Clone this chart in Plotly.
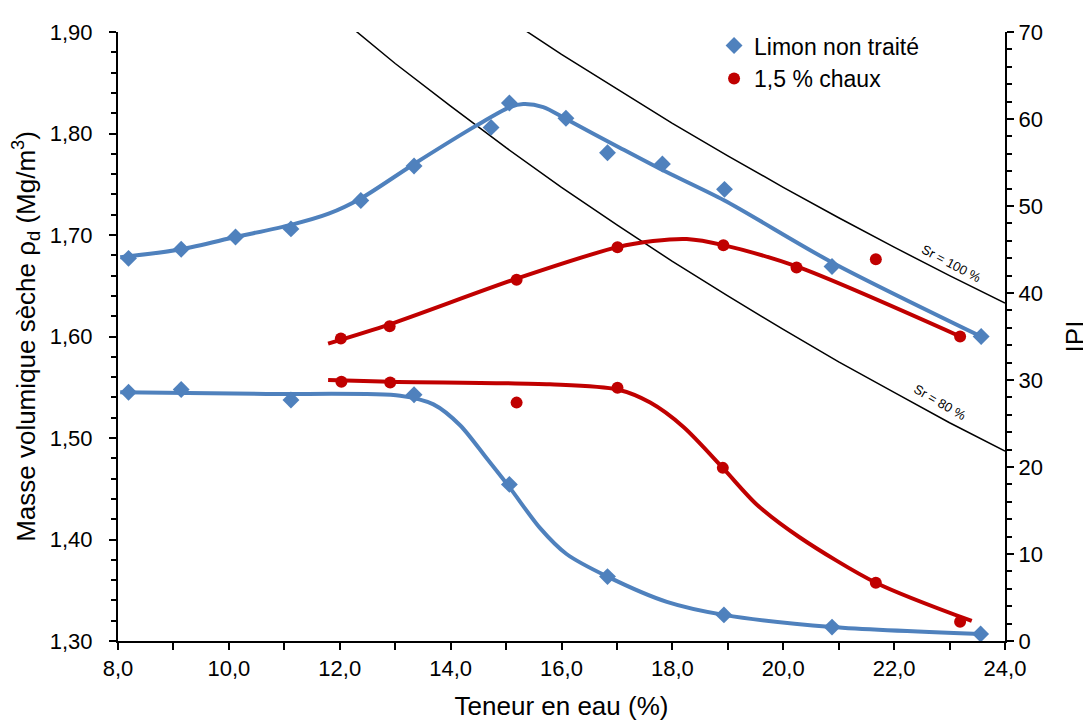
import plotly.graph_objects as go

# ---- measured points ----
w_limon_rho = [8.19, 9.14, 10.12, 11.12, 12.38, 13.34, 14.73, 15.06, 16.08, 16.83, 17.82, 18.94, 20.88, 23.57]
rho_limon = [1.677, 1.686, 1.698, 1.706, 1.734, 1.768, 1.806, 1.830, 1.815, 1.781, 1.770, 1.745, 1.669, 1.600]

w_limon_ipi = [8.19, 9.14, 11.12, 13.34, 15.06, 16.83, 18.93, 20.88, 23.56]
ipi_limon = [28.6, 28.9, 27.7, 28.3, 18.0, 7.4, 3.0, 1.6, 0.8]

w_chaux_rho = [12.02, 12.90, 15.19, 17.01, 18.92, 20.24, 21.67, 23.19]
rho_chaux = [1.598, 1.610, 1.656, 1.688, 1.690, 1.668, 1.676, 1.600]

w_chaux_ipi = [12.03, 12.91, 15.19, 17.01, 18.91, 21.67, 23.19]
ipi_chaux = [29.8, 29.7, 27.4, 29.1, 19.9, 6.7, 2.2]

# ---- fitted curves ----
w_fit_limon_rho = [8.04, 9.14, 10.12, 11.12, 11.80, 12.38, 13.34, 14.47, 15.07, 15.31, 15.67, 16.09, 17.05, 17.82, 18.94, 20.88, 23.57]
fit_limon_rho = [1.678, 1.686, 1.698, 1.710, 1.721, 1.736, 1.770, 1.808, 1.826, 1.829, 1.826, 1.814, 1.786, 1.764, 1.734, 1.673, 1.600]

w_fit_limon_ipi = [8.04, 10.68, 13.09, 13.69, 14.17, 14.65, 15.07, 15.61, 16.09, 16.83, 17.90, 18.93, 20.88, 23.56]
fit_limon_ipi = [28.6, 28.4, 28.2, 27.2, 24.8, 21.0, 17.6, 13.0, 10.0, 7.4, 4.5, 3.0, 1.6, 0.8]

w_fit_chaux_rho = [11.79, 12.90, 15.19, 17.01, 17.65, 18.26, 18.92, 20.24, 23.19]
fit_chaux_rho = [1.593, 1.612, 1.657, 1.688, 1.694, 1.696, 1.690, 1.669, 1.600]

w_fit_chaux_ipi = [11.79, 12.91, 15.79, 17.01, 17.60, 18.20, 18.91, 19.52, 20.30, 21.67, 23.40]
fit_chaux_ipi = [30.0, 29.8, 29.5, 28.9, 27.4, 24.6, 19.9, 15.7, 11.9, 6.7, 2.3]

# ---- saturation curves ----
w_sr100 = [15.0, 16.0, 17.0, 18.0, 19.0, 20.0, 21.0, 22.0, 23.0, 24.0]
rho_sr100 = [1.914, 1.878, 1.844, 1.810, 1.778, 1.747, 1.717, 1.688, 1.660, 1.633]
w_sr80 = [12.0, 13.0, 14.0, 15.0, 16.0, 17.0, 18.0, 19.0, 20.0, 21.0, 22.0, 23.0, 24.0]
rho_sr80 = [1.914, 1.869, 1.827, 1.786, 1.747, 1.710, 1.674, 1.640, 1.607, 1.575, 1.545, 1.515, 1.487]

BLUE = "#4F81BD"
RED = "#C00000"
FONT = "Liberation Sans, Arial, sans-serif"

fig = go.Figure()

fig.add_trace(go.Scatter(x=w_sr100, y=rho_sr100, mode="lines", line=dict(color="black", width=1.5),
                         showlegend=False, hoverinfo="skip"))
fig.add_trace(go.Scatter(x=w_sr80, y=rho_sr80, mode="lines", line=dict(color="black", width=1.5),
                         showlegend=False, hoverinfo="skip"))

# fitted curves
fig.add_trace(go.Scatter(x=w_fit_limon_rho, y=fit_limon_rho, mode="lines",
                         line=dict(color=BLUE, width=4, shape="spline", smoothing=0.8), showlegend=False))
fig.add_trace(go.Scatter(x=w_fit_chaux_rho, y=fit_chaux_rho, mode="lines",
                         line=dict(color=RED, width=4, shape="spline", smoothing=0.8), showlegend=False))
fig.add_trace(go.Scatter(x=w_fit_limon_ipi, y=fit_limon_ipi, mode="lines", yaxis="y2",
                         line=dict(color=BLUE, width=4, shape="spline", smoothing=0.8), showlegend=False))
fig.add_trace(go.Scatter(x=w_fit_chaux_ipi, y=fit_chaux_ipi, mode="lines", yaxis="y2",
                         line=dict(color=RED, width=4, shape="spline", smoothing=0.8), showlegend=False))

# markers
fig.add_trace(go.Scatter(x=w_limon_rho, y=rho_limon, mode="markers", name="Limon non traité",
                         marker=dict(symbol="diamond", color=BLUE, size=13)))
fig.add_trace(go.Scatter(x=w_chaux_rho, y=rho_chaux, mode="markers", name="1,5 % chaux",
                         marker=dict(symbol="circle", color=RED, size=12)))
fig.add_trace(go.Scatter(x=w_limon_ipi, y=ipi_limon, mode="markers", yaxis="y2", showlegend=False,
                         marker=dict(symbol="diamond", color=BLUE, size=13)))
fig.add_trace(go.Scatter(x=w_chaux_ipi, y=ipi_chaux, mode="markers", yaxis="y2", showlegend=False,
                         marker=dict(symbol="circle", color=RED, size=12)))

fig.add_annotation(x=23.03, y=1.672, text="Sr = 100 %", showarrow=False, textangle=28,
                   font=dict(family=FONT, size=13, color="black"))
fig.add_annotation(x=22.83, y=1.535, text="Sr = 80 %", showarrow=False, textangle=30,
                   font=dict(family=FONT, size=13, color="black"))

axis_common = dict(showgrid=False, zeroline=False, showline=True, linecolor="black", linewidth=2,
                   ticks="outside", tickcolor="black", tickwidth=2, ticklen=7,
                   tickfont=dict(family=FONT, size=22, color="black"))

fig.update_layout(
    width=1091, height=724,
    margin=dict(l=110, r=94, t=18, b=91),
    paper_bgcolor="white", plot_bgcolor="white",
    font=dict(family=FONT, color="black"),
    separators=", ",
    xaxis=dict(range=[8, 24], dtick=2, tick0=8, tickformat=".1f",
               minor=dict(dtick=1, ticks="outside", ticklen=7, tickwidth=2, tickcolor="black"),
               title=dict(text="Teneur en eau (%)", font=dict(family=FONT, size=26), standoff=16),
               **axis_common),
    yaxis=dict(range=[1.30, 1.90], dtick=0.1, tickformat=".2f", ticklabelstandoff=12,
               minor=dict(dtick=0.02, ticks="outside", ticklen=5, tickwidth=1.5, tickcolor="black"),
               title=dict(text="Masse volumique sèche ρ<sub>d</sub> (Mg/m<sup>3</sup>)",
                          font=dict(family=FONT, size=26), standoff=12),
               **axis_common),
    yaxis2=dict(range=[0, 70], dtick=10, overlaying="y", side="right", anchor="x",
                minor=dict(dtick=2, ticks="outside", ticklen=5, tickwidth=1.5, tickcolor="black"),
                title=dict(text="IPI", font=dict(family=FONT, size=26), standoff=24),
                **axis_common),
    legend=dict(x=0.672, y=1.013, xanchor="left", yanchor="top", bgcolor="rgba(0,0,0,0)",
                font=dict(family=FONT, size=23, color="black"), itemwidth=30, tracegroupgap=2),
    showlegend=True,
)

fig.write_html("out.html")
